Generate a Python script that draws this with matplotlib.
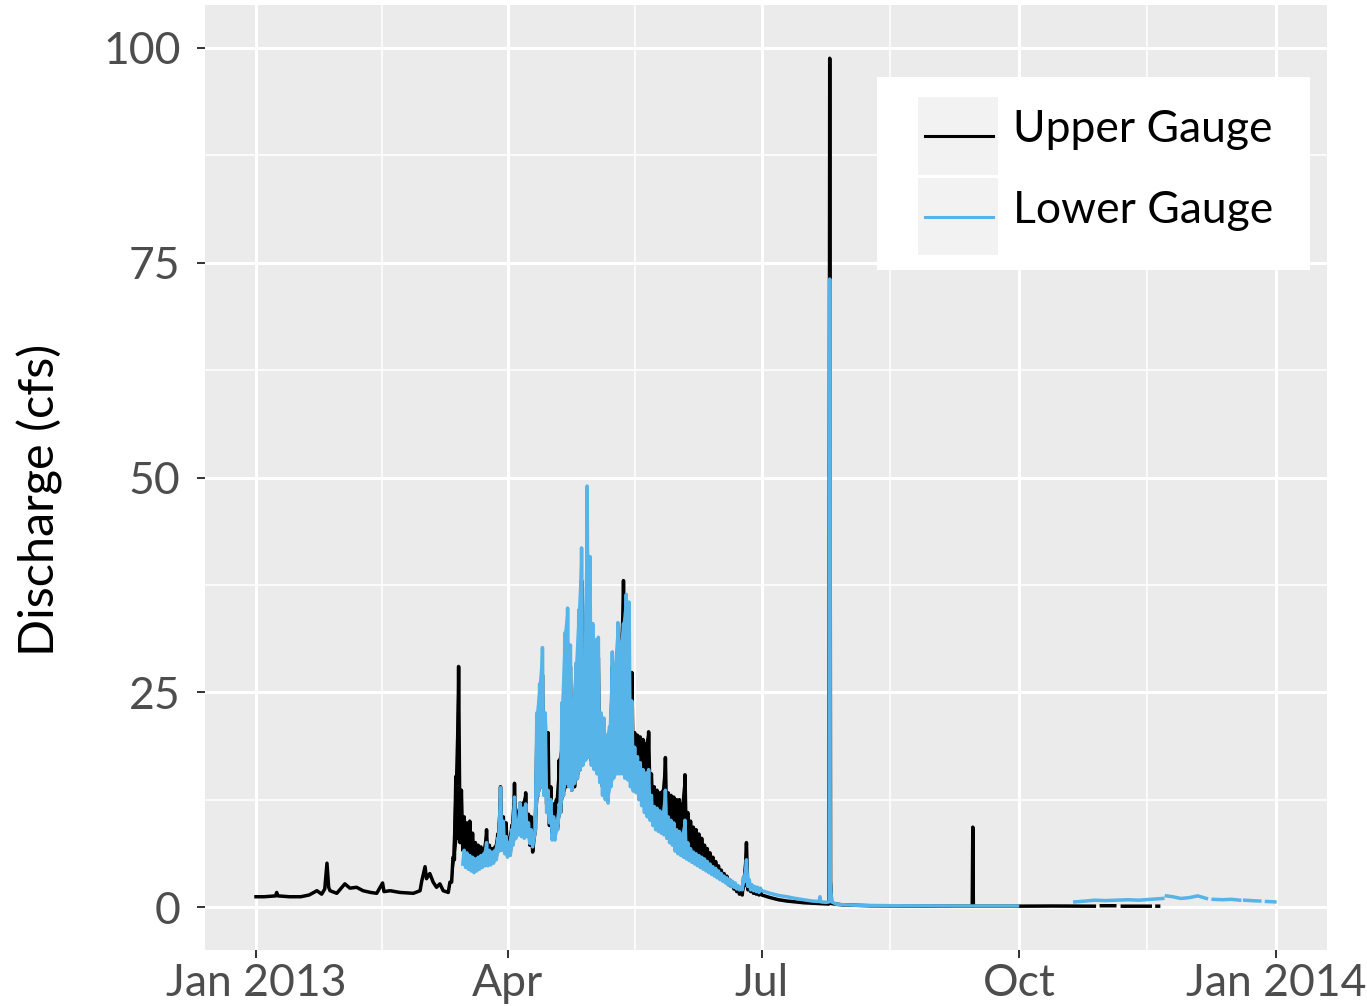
import numpy as np
import matplotlib.pyplot as plt
import matplotlib.dates as mdates
from matplotlib.patches import Rectangle
from matplotlib.lines import Line2D

plt.rcParams['font.family'] = ['Lato', 'DejaVu Sans']

# discharge readings, days counted from 1 Jan 2013
upper_early_days = [0, 3, 7, 7.4, 7.8, 12, 16, 19, 21.8, 23.5, 24.6, 25.4, 26, 26.5, 28.9,
                    31.8, 33.6, 36, 38.3, 41, 43.2, 45.3, 45.8, 48, 51.5, 56.3, 58.7, 59.3,
                    60.5, 61, 62.2, 63.4, 64.6, 65.8, 67, 68.8, 69.4]
upper_early_cfs = [1.2, 1.2, 1.3, 1.7, 1.3, 1.2, 1.2, 1.4, 1.9, 1.5, 2.1, 5.1, 2.3, 1.9, 1.6,
                   2.7, 2.2, 2.3, 1.9, 1.7, 1.6, 2.8, 1.8, 1.9, 1.7, 1.6, 1.9, 3.0,
                   4.7, 3.3, 3.9, 2.9, 2.3, 2.7, 1.9, 1.7, 2.9]

# daily low / high during the snowmelt season (diurnal swing)
upper_band_start = 70
upper_lo = [2.9, 5.5, 8.0, 7.5, 6.6, 6.4, 6.2, 6.0, 5.6, 5.2,
            5.0, 5.0, 5.2, 5.0, 5.2, 5.4, 5.8, 7.0, 7.2, 6.6,
            6.0, 6.2, 7.5, 8.5, 8.6, 9.0, 8.6, 8.5, 7.2, 6.4,
            9.0, 13.0, 14.0, 13.5, 12.0, 9.5, 8.6, 8.8, 9.3, 11.0,
            13.0, 14.0, 14.4, 13.6, 14.0, 15.0, 16.0, 17.0, 18.0, 17.5,
            17.0, 16.5, 16.0, 15.0, 14.0, 13.5, 13.5, 15.0, 16.0, 16.5,
            16.5, 16.5, 16.0, 16.0, 15.5, 15.5, 15.0, 14.5, 14.0, 13.5,
            13.0, 12.5, 10.5, 10.0, 9.6, 9.3, 9.0, 9.0, 8.8, 8.6,
            8.6, 8.4, 8.2, 8.0, 7.5, 7.0, 6.6, 6.2, 5.8, 5.5,
            5.2, 5.0, 4.7, 4.4, 4.1, 3.8, 3.5, 3.2, 2.9, 2.6,
            2.4, 2.1, 1.8, 1.5, 1.4, 2.5, 2.0, 1.8, 1.6, 1.5, 1.4]
upper_hi = [5.8, 15.2, 28.0, 13.6, 10.5, 9.8, 10.0, 8.6, 7.5, 7.2,
            7.0, 6.8, 9.0, 7.2, 6.8, 7.0, 8.5, 14.0, 10.5, 9.8,
            8.0, 9.5, 14.4, 11.0, 12.1, 12.1, 13.3, 10.8, 10.5, 8.0,
            20.0, 24.0, 27.0, 22.0, 20.3, 14.0, 12.0, 12.5, 17.1, 19.0,
            25.0, 30.0, 28.0, 22.0, 26.0, 32.0, 38.0, 26.0, 44.0, 36.0,
            30.0, 29.0, 29.0, 21.0, 21.0, 19.0, 20.0, 28.0, 27.0, 31.0,
            30.0, 38.0, 34.0, 23.0, 27.3, 20.3, 20.0, 19.8, 19.5, 19.0,
            20.4, 15.5, 14.0, 13.6, 13.3, 13.5, 17.4, 13.3, 13.0, 12.8,
            12.5, 12.5, 12.0, 15.4, 11.0, 10.0, 9.3, 9.0, 8.5, 8.0,
            7.2, 6.8, 6.3, 5.8, 5.3, 4.8, 4.3, 3.9, 3.6, 3.2,
            2.9, 2.6, 2.3, 2.0, 3.5, 7.5, 2.8, 2.3, 2.1, 1.9, 1.8]

lower_band_start = 74
lower_lo = [5.0, 4.6, 4.4, 4.2, 4.0, 4.2,
            4.4, 4.6, 4.8, 4.8, 4.9, 5.1, 5.5, 6.5, 6.6, 6.2,
            5.8, 6.0, 7.2, 8.0, 8.4, 8.2, 8.0, 8.2, 7.4, 7.0,
            9.0, 13.0, 14.0, 13.0, 11.0, 9.8, 7.8, 7.8, 9.0, 11.0,
            13.0, 14.4, 14.0, 13.6, 14.4, 15.0, 16.0, 16.5, 17.1, 17.5,
            16.5, 16.0, 15.5, 14.5, 13.0, 12.5, 12.1, 14.0, 15.0, 15.5,
            15.5, 15.5, 15.0, 14.8, 14.0, 13.5, 13.3, 12.5, 11.8, 11.0,
            10.5, 10.1, 9.5, 9.0, 8.8, 8.6, 8.4, 8.0, 7.5, 7.2,
            6.5, 6.2, 6.0, 5.8, 5.6, 5.4, 5.2, 5.0, 4.8, 4.6,
            4.4, 4.2, 4.0, 3.8, 3.6, 3.4, 3.2, 3.0, 2.8, 2.6,
            2.4, 2.3, 2.1, 2.0, 2.0, 3.0, 2.4, 2.0, 1.9, 1.8, 1.7]
lower_hi = [6.6, 6.3, 6.0, 5.8, 5.6, 5.8,
            6.0, 6.2, 7.5, 6.6, 6.4, 6.6, 8.0, 13.9, 10.0, 8.2,
            7.5, 9.0, 12.8, 9.8, 12.1, 11.5, 12.0, 9.8, 9.0, 8.0,
            22.6, 26.0, 30.2, 22.6, 13.6, 12.5, 10.5, 10.0, 12.0, 23.8,
            31.9, 34.8, 30.5, 24.1, 28.4, 34.6, 41.8, 27.6, 49.0, 40.8,
            33.0, 31.1, 31.4, 22.6, 22.0, 20.0, 21.0, 29.7, 28.4, 33.1,
            30.8, 33.0, 36.4, 35.5, 24.0, 18.6, 17.5, 16.8, 16.0, 15.6,
            16.0, 13.0, 11.7, 11.5, 11.2, 11.0, 13.6, 10.5, 10.1, 9.8,
            9.0, 8.8, 8.5, 10.1, 7.5, 6.8, 6.4, 6.2, 6.0, 5.8,
            5.6, 5.3, 5.0, 4.7, 4.5, 4.2, 3.9, 3.6, 3.4, 3.2,
            3.0, 2.8, 2.5, 2.3, 3.5, 5.5, 3.2, 2.6, 2.4, 2.3, 2.2]

nan = np.nan
upper_late_days = [181, 184, 187, 190, 193, 196, 199, 202, 205, 205.3, 205.6, 206, 210, 220,
                   230, 240, 250, 256.3, 256.5, 256.7, 262, 272, 285, 300, 300.5,
                   302.5, 307.3, 308, 310, 320, 321, 322.4, 323]
upper_late_cfs = [1.4, 1.1, 0.85, 0.7, 0.6, 0.5, 0.45, 0.4, 0.35, 98.8, 3.0, 0.4, 0.25, 0.15,
                  0.12, 0.1, 0.1, 0.1, 9.3, 0.1, 0.1, 0.1, 0.12, 0.1, nan,
                  0.15, 0.15, nan, 0.1, 0.1, nan, 0.1, 0.1]

lower_late_days = [181, 184, 187, 190, 193, 196, 199, 201.6, 201.8, 202.1, 204, 205.1, 205.3,
                   205.5, 206, 208, 215, 230, 250, 272.5, 273,
                   293, 297, 300, 304, 308, 312, 316, 320, 324.5, 325,
                   325.8, 328, 331, 334, 337, 340.1, 341,
                   342.5, 346, 349, 352, 353,
                   353.8, 356, 359.2, 360, 361.6, 364.6]
lower_late_cfs = [1.9, 1.6, 1.35, 1.2, 1.0, 0.85, 0.7, 0.65, 1.2, 0.6, 0.55, 0.6, 73.1,
                  3.0, 0.6, 0.3, 0.2, 0.15, 0.12, 0.12, nan,
                  0.6, 0.7, 0.8, 0.75, 0.8, 0.85, 0.8, 0.9, 1.0, nan,
                  1.3, 1.2, 1.0, 1.1, 1.3, 1.0, nan,
                  0.9, 0.85, 0.9, 0.8, nan,
                  0.8, 0.75, 0.7, nan, 0.65, 0.6]

UPPER_COL = 'black'
LOWER_COL = '#56B4E9'


def zigzag(start, lo, hi):
    d = start + np.arange(len(lo))
    days = np.column_stack((d, d + 0.5)).ravel()
    vals = np.column_stack((lo, hi)).ravel()
    return days, vals


t0 = mdates.date2num(np.datetime64('2013-01-01'))

ub_d, ub_v = zigzag(upper_band_start, upper_lo, upper_hi)
lb_d, lb_v = zigzag(lower_band_start, lower_lo, lower_hi)
upper_days = np.concatenate([upper_early_days, ub_d, upper_late_days])
upper_cfs = np.concatenate([upper_early_cfs, ub_v, upper_late_cfs])
lower_days = np.concatenate([lb_d, lower_late_days])
lower_cfs = np.concatenate([lb_v, lower_late_cfs])

fig = plt.figure(figsize=(13.67, 10.06), dpi=100)
ax = fig.add_axes([205 / 1367, 1 - 950 / 1006, 1122 / 1367, 945 / 1006])
ax.set_facecolor('#EBEBEB')

# the diurnal swing is so dense that it reads as a filled band
ax.fill_between(t0 + upper_band_start + np.arange(len(upper_lo)), upper_lo, upper_hi,
                color=UPPER_COL, lw=0, zorder=3)
ax.plot(t0 + upper_days, upper_cfs, color=UPPER_COL, lw=2.5, zorder=3)
ax.fill_between(t0 + lower_band_start + np.arange(len(lower_lo)), lower_lo, lower_hi,
                color=LOWER_COL, lw=0, zorder=4)
ax.plot(t0 + lower_days, lower_cfs, color=LOWER_COL, lw=2.5, zorder=4)

ax.set_xlim(t0 - 18.25, t0 + 383.25)
ax.set_ylim(-5, 105)

ax.set_xticks(t0 + np.array([0, 90, 181, 273, 365]))
ax.set_xticklabels(['Jan 2013', 'Apr', 'Jul', 'Oct', 'Jan 2014'])
ax.set_xticks(t0 + np.array([45, 135.5, 227, 319]), minor=True)
ax.set_yticks([0, 25, 50, 75, 100])
ax.set_yticks([12.5, 37.5, 62.5, 87.5], minor=True)

ax.grid(which='major', color='white', lw=2.2)
ax.grid(which='minor', color='white', lw=1.1)
ax.set_axisbelow(True)
for s in ax.spines.values():
    s.set_visible(False)
ax.tick_params(which='major', length=5.5, width=1.4, color='#333333',
               labelsize=32, labelcolor='#4D4D4D')
ax.tick_params(axis='y', which='major', pad=12)
ax.tick_params(axis='x', which='major', pad=4)
ax.tick_params(which='minor', length=0)

fig.text(40 / 1367, 1 - 500 / 1006, 'Discharge (cfs)', rotation=90,
         ha='center', va='center', fontsize=35, color='black')


# legend drawn in figure pixels
def fx(x):
    return x / 1367


def fy(y):
    return 1 - y / 1006


fig.add_artist(Rectangle((fx(877), fy(270)), fx(1310) - fx(877), fy(77) - fy(270),
                         transform=fig.transFigure, facecolor='white', edgecolor='none', zorder=5))
for top, bot, col, label in [(97, 175, UPPER_COL, 'Upper Gauge'), (178, 255, LOWER_COL, 'Lower Gauge')]:
    fig.add_artist(Rectangle((fx(918), fy(bot)), fx(998) - fx(918), fy(top) - fy(bot),
                             transform=fig.transFigure, facecolor='#F2F2F2', edgecolor='none', zorder=6))
    mid = (top + bot) / 2
    fig.add_artist(Line2D([fx(925), fx(993)], [fy(mid), fy(mid)], transform=fig.transFigure,
                          color=col, lw=2.2, zorder=7))
    fig.text(fx(1013), fy(mid - 6), label, ha='left', va='center', fontsize=32,
             color='black', zorder=7)

fig.savefig('out.png', dpi=100)
